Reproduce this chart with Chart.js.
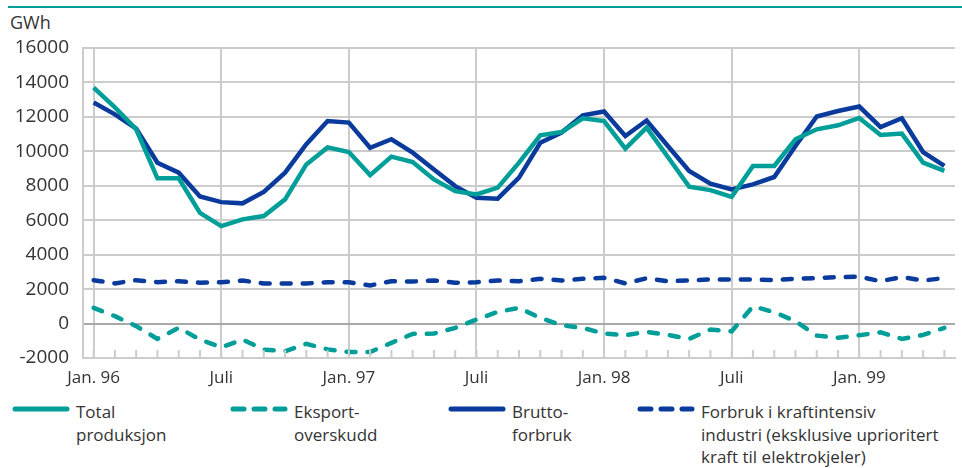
<!DOCTYPE html>
<html>
<head>
<meta charset="utf-8">
<script src="https://cdn.jsdelivr.net/npm/chart.js@4.4.1/dist/chart.umd.min.js"></script>
<style>
  body { margin: 0; background: #fff; font-family: "Open Sans", sans-serif; color: #333; }
  #page { position: relative; width: 962px; height: 468px; overflow: hidden; }
  #topline { position: absolute; left: 8px; right: 0; top: 6px; height: 2px; background: #009e99; }
  #unit { position: absolute; left: 10px; top: 10px; font-size: 18px; }
  #wrap { position: absolute; left: 0; top: 0; width: 962px; height: 400px; }
  #legend { position: absolute; left: 0; top: 401px; width: 962px; }
  .item { position: absolute; top: 0; display: flex; align-items: flex-start; }
  .item svg { margin-top: 4px; }
  .item span { font-size: 17px; line-height: 22.5px; margin-left: 6px; white-space: pre; }
</style>
</head>
<body>
<div id="page">
  <div id="topline"></div>
  <div id="unit">GWh</div>
  <div id="wrap"><canvas id="chart"></canvas></div>
  <div id="legend"></div>
</div>
<script>
// Month labels, Jan 96 - May 99
const months = [
  'Jan. 96', 'Feb', 'Mar', 'Apr', 'Mai', 'Juni', 'Juli', 'Aug', 'Sep', 'Okt', 'Nov', 'Des',
  'Jan. 97', 'Feb', 'Mar', 'Apr', 'Mai', 'Juni', 'Juli', 'Aug', 'Sep', 'Okt', 'Nov', 'Des',
  'Jan. 98', 'Feb', 'Mar', 'Apr', 'Mai', 'Juni', 'Juli', 'Aug', 'Sep', 'Okt', 'Nov', 'Des',
  'Jan. 99', 'Feb', 'Mar', 'Apr', 'Mai'
];

// GWh per month
const totalProduksjon = [
  13700, 12550, 11280, 8430, 8430, 6430, 5660, 6050, 6240, 7210, 9240, 10230,
  9960, 8620, 9690, 9380, 8370, 7690, 7500, 7890, 9340, 10930, 11120, 11920,
  11760, 10160, 11380, 9670, 7950, 7750, 7360, 9150, 9150, 10700, 11280, 11510,
  11940, 10950, 11030, 9340, 8860
];
const eksportOverskudd = [
  910, 430, -150, -890, -250, -930, -1380, -930, -1510, -1610, -1180, -1500,
  -1650, -1650, -1120, -600, -580, -250, 230, 680, 910, 330, -100, -250,
  -580, -680, -480, -660, -890, -350, -450, 1000, 660, 140, -700, -830,
  -680, -510, -890, -660, -250
];
const bruttoForbruk = [
  12830, 12150, 11320, 9340, 8760, 7380, 7050, 6980, 7640, 8760, 10410, 11760,
  11670, 10210, 10700, 9920, 8950, 7980, 7310, 7250, 8470, 10500, 11090, 12090,
  12310, 10890, 11790, 10310, 8860, 8120, 7790, 8080, 8510, 10310, 12020, 12340,
  12600, 11410, 11920, 9960, 9150
];
const kraftintensiv = [
  2520, 2330, 2520, 2400, 2460, 2370, 2400, 2500, 2330, 2330, 2330, 2400,
  2400, 2210, 2460, 2440, 2500, 2370, 2400, 2500, 2460, 2600, 2500, 2600,
  2660, 2330, 2630, 2460, 2500, 2560, 2560, 2560, 2520, 2600, 2640, 2700,
  2720, 2460, 2700, 2500, 2640
];

const teal = '#009e99';
const navy = '#0a3a9c';
const gridGrey = '#cccccc';

// Small tick marks pointing up from the x axis at every month
const innerTicks = {
  id: 'innerTicks',
  afterDatasetsDraw(chart) {
    const x = chart.scales.x;
    const ctx = chart.ctx;
    const bottom = chart.chartArea.bottom;
    ctx.save();
    ctx.strokeStyle = gridGrey;
    ctx.lineWidth = 2;
    x.ticks.forEach((t, i) => {
      const px = x.getPixelForTick(i);
      ctx.beginPath();
      ctx.moveTo(px, bottom - 8);
      ctx.lineTo(px, bottom);
      ctx.stroke();
    });
    ctx.restore();
  }
};

const datasets = [
  { label: 'Total\nproduksjon', data: totalProduksjon, borderColor: teal, borderDash: [] },
  { label: 'Eksport-\noverskudd', data: eksportOverskudd, borderColor: teal, borderDash: [9, 12] },
  { label: 'Brutto-\nforbruk', data: bruttoForbruk, borderColor: navy, borderDash: [] },
  { label: 'Forbruk i kraftintensiv\nindustri (eksklusive uprioritert\nkraft til elektrokjeler)', data: kraftintensiv, borderColor: navy, borderDash: [9, 12] }
].map(d => ({
  ...d,
  backgroundColor: d.borderColor,
  borderWidth: 4.5,
  borderCapStyle: d.borderDash.length ? 'round' : 'butt',
  pointRadius: 0,
  tension: 0,
  fill: false
}));

new Chart(document.getElementById('chart'), {
  type: 'line',
  data: { labels: months, datasets: datasets },
  plugins: [innerTicks],
  options: {
    responsive: true,
    maintainAspectRatio: false,
    animation: false,
    layout: { padding: { top: 48, right: 7, left: 0, bottom: 0 } },
    plugins: { legend: { display: false }, tooltip: { enabled: false } },
    scales: {
      x: {
        offset: true,
        grid: {
          offset: false,
          drawTicks: false,
          lineWidth: 2,
          color: c => (c.index % 6 === 0 ? gridGrey : 'rgba(0,0,0,0)')
        },
        border: { display: true, color: gridGrey, width: 2 },
        ticks: {
          autoSkip: false,
          maxRotation: 0,
          padding: 10,
          color: '#333',
          font: { family: 'Open Sans', size: 17 },
          callback: function (v, i) { return i % 6 === 0 ? months[i] : ''; }
        },
        afterFit: s => { s.height = 42; }
      },
      y: {
        min: -2000,
        max: 16000,
        grid: {
          drawTicks: false,
          lineWidth: 2,
          color: c => (c.tick && c.tick.value === 0 ? '#a8a8a8' : gridGrey)
        },
        border: { display: true, color: gridGrey, width: 2 },
        ticks: {
          stepSize: 2000,
          padding: 14,
          color: '#333',
          font: { family: 'Open Sans', size: 19 },
          callback: v => String(v)
        },
        afterFit: s => { s.width = 83; }
      }
    }
  }
});

// HTML legend with multi-line labels
const legendLeft = [12, 230, 448, 637];
const legend = document.getElementById('legend');
datasets.forEach((d, i) => {
  const item = document.createElement('div');
  item.className = 'item';
  item.style.left = legendLeft[i] + 'px';
  const dash = d.borderDash.length ? 'stroke-dasharray="11 10" stroke-linecap="round"' : 'stroke-linecap="round"';
  item.innerHTML =
    `<svg width="58" height="8"><line x1="3" y1="4" x2="55" y2="4" stroke="${d.borderColor}" stroke-width="5" ${dash}/></svg>` +
    `<span>${d.label}</span>`;
  legend.appendChild(item);
});
</script>
</body>
</html>
